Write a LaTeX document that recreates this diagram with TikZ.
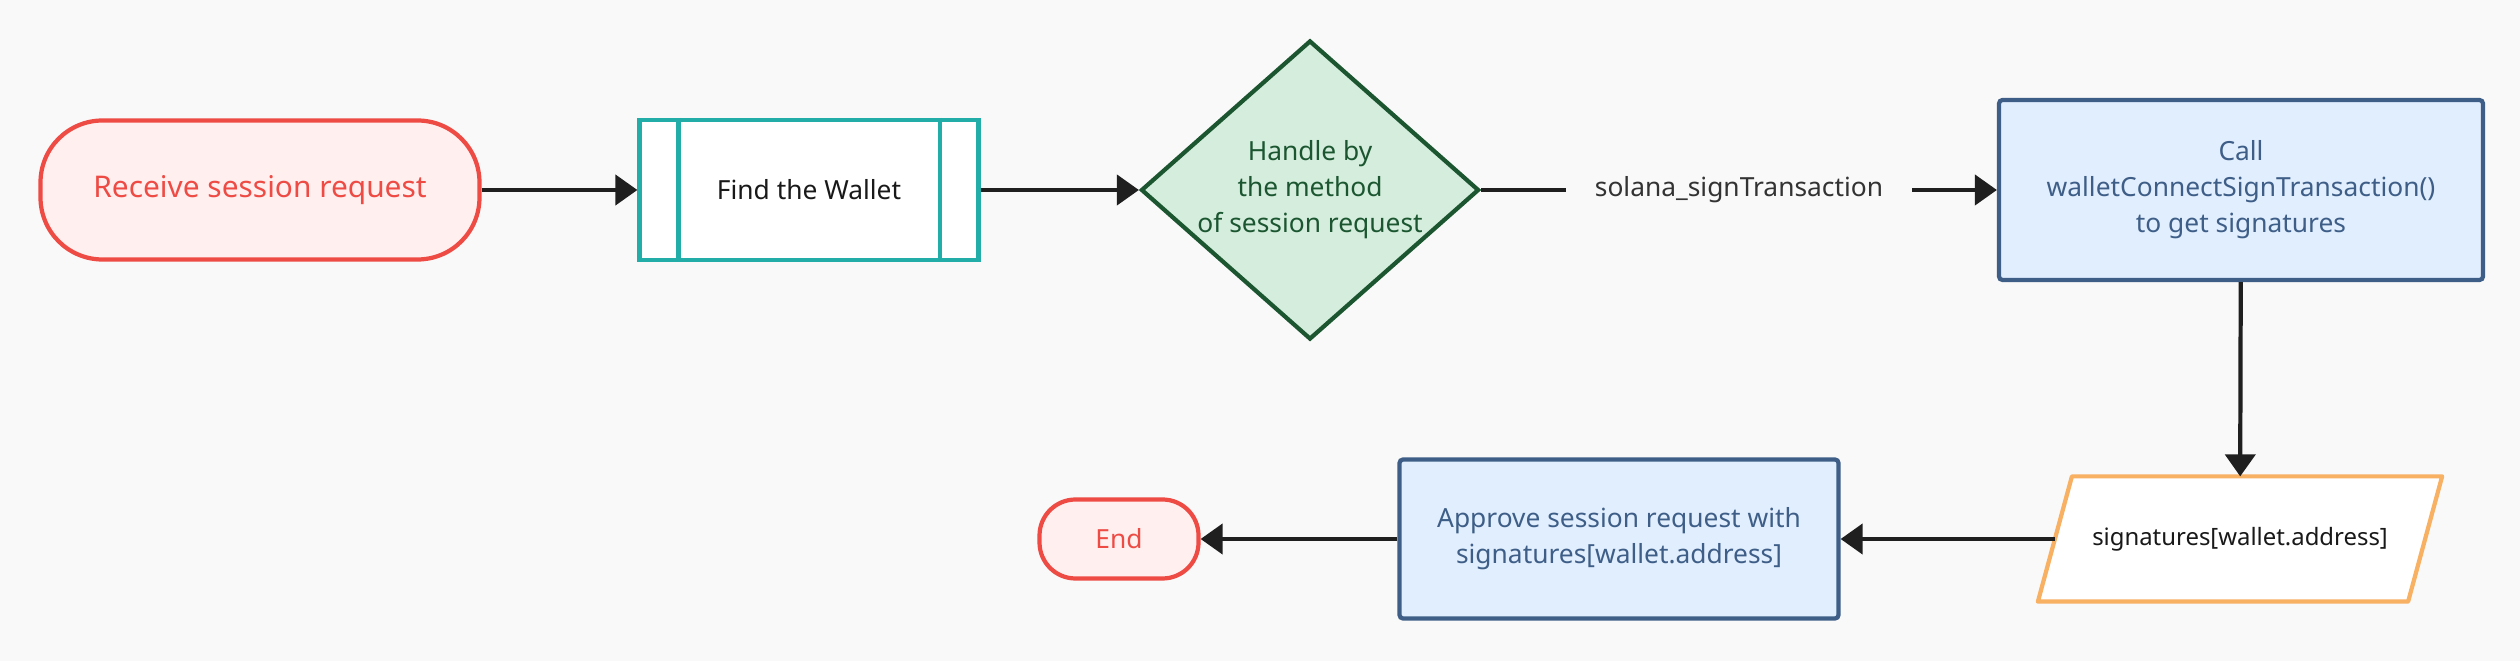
\documentclass[tikz,border=0pt]{standalone}
\usepackage{fontspec}
\setmainfont{Noto Sans}
\usetikzlibrary{arrows.meta,shapes.geometric,backgrounds}
\definecolor{pagebg}{HTML}{F9F9F9}
\definecolor{termred}{HTML}{EE4B45}
\definecolor{termfill}{HTML}{FFF0EF}
\definecolor{subteal}{HTML}{22ADA9}
\definecolor{darkgreen}{HTML}{1B5631}
\definecolor{softgreen}{HTML}{D5EDDC}
\definecolor{slateblue}{HTML}{3E5E87}
\definecolor{paleblue}{HTML}{E1EEFE}
\definecolor{ioorange}{HTML}{F8B062}
\definecolor{inkgrey}{HTML}{333333}

\begin{document}
\begin{tikzpicture}[
  base/.style={line width=1.2pt,align=center,inner sep=0pt,font=\fontsize{7.5}{10.2}\selectfont},
  term/.style={base,draw=termred,fill=termfill,text=termred},
  sub/.style={base,draw=subteal,fill=white,text=black!90,minimum width=3.39cm,minimum height=1.40cm},
  choice/.style={base,diamond,draw=darkgreen,fill=softgreen,text=darkgreen,aspect=1.13,
    inner ysep=-3pt,minimum width=3.38cm,minimum height=2.99cm},
  proc/.style={base,draw=slateblue,fill=paleblue,text=slateblue,rounded corners=1pt},
  io/.style={base,text=black!90,minimum width=3.66cm,minimum height=1.21cm,
    font=\fontsize{6.8}{9}\selectfont},
  link/.style={line width=1.2pt,draw=black!88},
  flow/.style={link,-{Triangle[length=0.22cm,width=0.3cm]}}]
\node[term,rounded corners=0.62cm,minimum width=4.39cm,minimum height=1.39cm,
  font=\fontsize{8.5}{10.2}\selectfont] (start) at (2.60,4.71) {Receive session request};
\node[sub] (find) at (8.09,4.71) {Find the Wallet};
\draw[subteal,line width=1.2pt] ([xshift=0.41cm]find.north west) -- ([xshift=0.41cm]find.south west);
\draw[subteal,line width=1.2pt] ([xshift=-0.41cm]find.north east) -- ([xshift=-0.41cm]find.south east);
\node[choice] (decide) at (13.10,4.71) {Handle by\\the method\\of session request};
\node[base,text=inkgrey,inner xsep=0.27cm] (method) at (17.39,4.71) {solana\_signTransaction};
\node[proc,minimum width=4.84cm,minimum height=1.80cm] (call) at (22.41,4.71)
  {Call\\walletConnectSignTransaction()\\to get signatures};
\node[io] (sig) at (22.40,1.22) {signatures[wallet.address]};
\node[proc,minimum width=4.39cm,minimum height=1.59cm] (approve) at (16.19,1.22)
  {Approve session request with\\signatures[wallet.address]};
\node[term,rounded corners=0.36cm,minimum width=1.59cm,minimum height=0.79cm] (done) at (11.19,1.22) {End};
\begin{scope}[on background layer]
\fill[pagebg] (0,0) rectangle (25.2,6.61);
\draw[ioorange,fill=white,line width=1.2pt,line join=round]
  ([xshift=-0.17cm]sig.south west) -- ([xshift=0.17cm]sig.north west)
  -- ([xshift=0.17cm]sig.north east) -- ([xshift=-0.17cm]sig.south east) -- cycle;
\end{scope}
\draw[flow] (start) -- (find);
\draw[flow] (find) -- (decide);
\draw[link] (decide) -- (method);
\draw[flow] (method) -- (call);
\draw[flow] (call) -- (sig);
\draw[flow] (sig) -- (approve);
\draw[flow] (approve) -- (done);
\end{tikzpicture}
\end{document}
